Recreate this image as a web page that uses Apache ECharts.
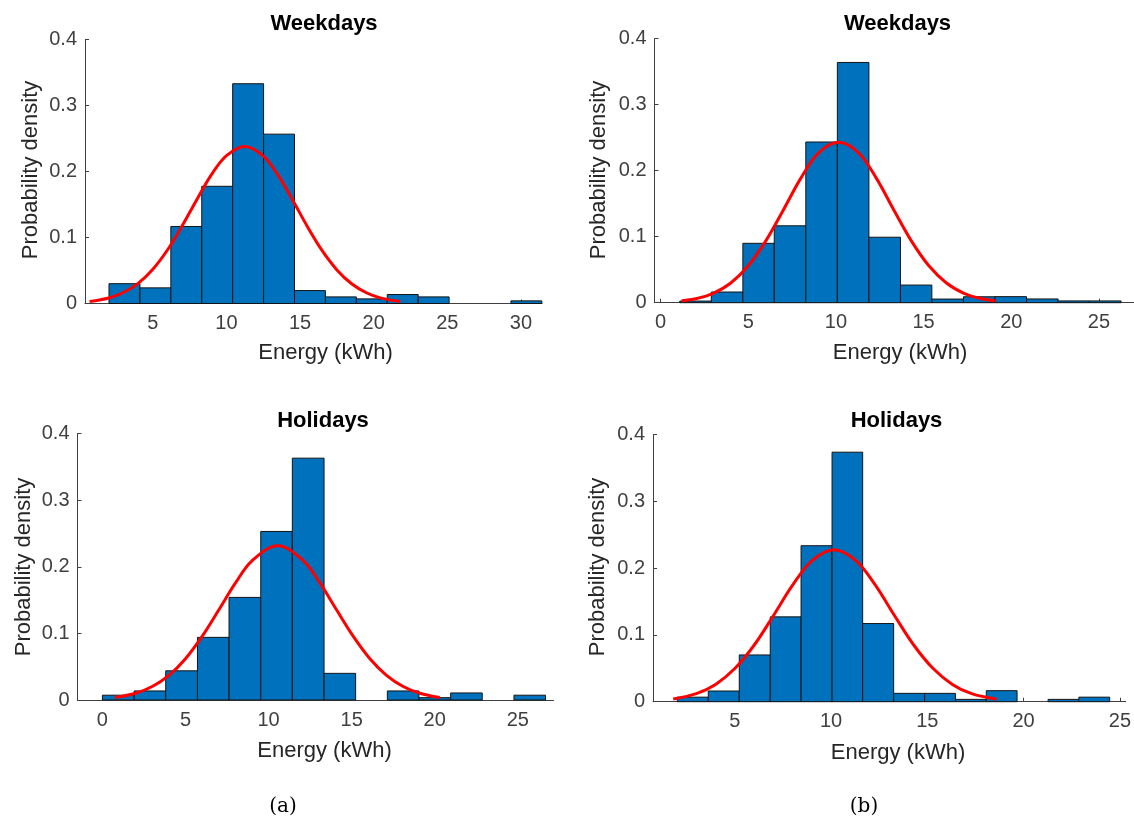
<!DOCTYPE html>
<html>
<head>
<meta charset="utf-8">
<title>Energy per charging session – probability density</title>
<script src="https://cdn.jsdelivr.net/npm/echarts@6/dist/echarts.min.js"></script>
<style>
  html, body { margin: 0; padding: 0; background: #ffffff; }
  #chart { width: 1134px; height: 820px; }
</style>
</head>
<body>
<div id="chart"></div>
<script>
// ---- (a) Weekdays ----
const aWeekEdges   = [2.02, 4.12, 6.22, 8.32, 10.42, 12.52, 14.62, 16.72, 18.82, 20.92, 23.02, 25.12, 27.22, 29.32, 31.42];
const aWeekDensity = [0.030, 0.0237, 0.1167, 0.1776, 0.333, 0.2566, 0.0196, 0.010, 0.007, 0.0136, 0.010, 0, 0, 0.004];
const aWeekFitX    = [0.7, 2, 3, 4, 5, 6, 7, 8, 9, 10, 11.23, 12.5, 13.5, 14.5, 15.5, 16.5, 17.5, 18.5, 19.5, 20.5, 21.8];
const aWeekFitY    = [0.003, 0.0084, 0.0167, 0.0306, 0.0519, 0.0814, 0.118, 0.158, 0.196, 0.224, 0.238, 0.2234, 0.1944, 0.1565, 0.1164, 0.080, 0.0509, 0.0299, 0.0163, 0.0082, 0.003];
const aWeekTicks   = [5, 10, 15, 20, 25, 30];

// ---- (b) Weekdays ----
const bWeekEdges   = [1.09, 2.89, 4.69, 6.48, 8.28, 10.08, 11.88, 13.68, 15.47, 17.27, 19.07, 20.87, 22.67, 24.46, 26.26];
const bWeekDensity = [0.0025, 0.0162, 0.090, 0.1165, 0.2435, 0.364, 0.0992, 0.0267, 0.0055, 0.009, 0.0092, 0.0057, 0.0027, 0.0027];
const bWeekFitX    = [1.2, 2, 3, 4, 5, 6, 7, 8, 9, 10.15, 11.3, 12.3, 13.3, 14.3, 15.3, 16.3, 17.3, 18.3, 19.1];
const bWeekFitY    = [0.0029, 0.0061, 0.0143, 0.0298, 0.0559, 0.0937, 0.1406, 0.1887, 0.2267, 0.243, 0.2267, 0.1887, 0.1406, 0.0937, 0.0559, 0.0298, 0.0143, 0.0061, 0.0029];
const bWeekTicks   = [0, 5, 10, 15, 20, 25];

// ---- (a) Holidays ----
const aHoliEdges   = [0.0, 1.91, 3.81, 5.72, 7.62, 9.53, 11.43, 13.34, 15.24, 17.15, 19.05, 20.96, 22.86, 24.77, 26.67];
const aHoliDensity = [0.0072, 0.0136, 0.0438, 0.094, 0.1540, 0.253, 0.363, 0.040, 0, 0.0136, 0.0035, 0.0106, 0, 0.0072];
const aHoliFitX    = [0.75, 2, 3, 4, 5, 6, 7, 8, 9, 10.55, 12.1, 13.1, 14.1, 15.1, 16.1, 17.1, 18.1, 19.1, 20.3];
const aHoliFitY    = [0.0038, 0.0102, 0.0202, 0.037, 0.062, 0.0955, 0.135, 0.1753, 0.2089, 0.2315, 0.2089, 0.1753, 0.135, 0.0955, 0.062, 0.037, 0.0202, 0.0102, 0.0038];
const aHoliTicks   = [0, 5, 10, 15, 20, 25];

// ---- (b) Holidays ----
const bHoliEdges   = [2.01, 3.62, 5.23, 6.84, 8.44, 10.05, 11.64, 13.25, 14.86, 16.46, 18.06, 19.66, 21.27, 22.87, 24.47];
const bHoliDensity = [0.0068, 0.016, 0.070, 0.127, 0.2335, 0.3735, 0.117, 0.0125, 0.0125, 0.0035, 0.0165, 0, 0.0035, 0.0068];
const bHoliFitX    = [1.8, 3, 4, 5, 6, 7, 8, 9, 10.15, 11.3, 12.3, 13.3, 14.3, 15.3, 16.3, 17.3, 18.6];
const bHoliFitY    = [0.0041, 0.012, 0.0259, 0.0496, 0.0845, 0.1287, 0.1744, 0.2109, 0.2275, 0.2109, 0.1744, 0.1287, 0.0845, 0.0496, 0.0259, 0.012, 0.0038];
const bHoliTicks   = [5, 10, 15, 20, 25];

const densityTicks = [0, 0.1, 0.2, 0.3, 0.4];

const titles    = ['Weekdays', 'Weekdays', 'Holidays', 'Holidays'];
const xName     = 'Energy (kWh)';
const yName     = 'Probability density';
const captions  = ['(a)', '(b)'];

const SANS = '"Liberation Sans", Arial, sans-serif';
const BAR_FILL = '#0072BD';
const FIT_RED = '#ff0000';
const AXIS_GREY = '#404040';

// Panel frames in pixels and the visible x range of each axis.
const panels = [
  { edges: aWeekEdges, dens: aWeekDensity, fx: aWeekFitX, fy: aWeekFitY, ticks: aWeekTicks,
    grid: { left: 85, top: 39.5, width: 457, height: 264 }, xmin: 0.39, xmax: 31.43,
    title: [324, 23.5], xname: [325.5, 353], yname: [31, 170] },
  { edges: bWeekEdges, dens: bWeekDensity, fx: bWeekFitX, fy: bWeekFitY, ticks: bWeekTicks,
    grid: { left: 654.5, top: 38.7, width: 479.5, height: 264 }, xmin: -0.35, xmax: 27.0,
    title: [897.5, 23.5], xname: [900, 353], yname: [599, 170] },
  { edges: aHoliEdges, dens: aHoliDensity, fx: aHoliFitX, fy: aHoliFitY, ticks: aHoliTicks,
    grid: { left: 77.5, top: 433.5, width: 476, height: 266.5 }, xmin: -1.5, xmax: 27.15,
    title: [323, 420.5], xname: [324.5, 751], yname: [24, 567] },
  { edges: bHoliEdges, dens: bHoliDensity, fx: bHoliFitX, fy: bHoliFitY, ticks: bHoliTicks,
    grid: { left: 653, top: 434.5, width: 481, height: 267.2 }, xmin: 0.75, xmax: 25.3,
    title: [896.5, 420.5], xname: [898, 753], yname: [598, 567] }
];

function histogramBar(params, api) {
  const h = api.value(2);
  if (!(h > 0)) return null;
  const topLeft = api.coord([api.value(0), h]);
  const bottomRight = api.coord([api.value(1), 0]);
  return {
    type: 'rect',
    shape: { x: topLeft[0], y: topLeft[1], width: bottomRight[0] - topLeft[0], height: bottomRight[1] - topLeft[1] },
    style: { fill: BAR_FILL, stroke: '#141414', lineWidth: 1 }
  };
}

const grid = [], xAxis = [], yAxis = [], series = [], graphic = [];

panels.forEach((p, i) => {
  grid.push(Object.assign({ containLabel: false }, p.grid));

  xAxis.push({
    type: 'value', gridIndex: i, min: p.xmin, max: p.xmax,
    axisLine: { show: true, onZero: false, lineStyle: { color: AXIS_GREY, width: 1 } },
    axisTick: { show: true, inside: true, length: 4, customValues: p.ticks, lineStyle: { color: AXIS_GREY } },
    axisLabel: { customValues: p.ticks, color: AXIS_GREY, fontFamily: SANS, fontSize: 20, margin: 10 },
    splitLine: { show: false }
  });

  yAxis.push({
    type: 'value', gridIndex: i, min: 0, max: 0.4,
    axisLine: { show: true, onZero: false, lineStyle: { color: AXIS_GREY, width: 1 } },
    axisTick: { show: true, inside: true, length: 4, customValues: densityTicks, lineStyle: { color: AXIS_GREY } },
    axisLabel: { customValues: densityTicks, color: AXIS_GREY, fontFamily: SANS, fontSize: 20, margin: 8 },
    splitLine: { show: false }
  });

  series.push({
    type: 'custom', xAxisIndex: i, yAxisIndex: i,
    renderItem: histogramBar,
    encode: { x: [0, 1], y: 2 },
    data: p.dens.map((d, k) => [p.edges[k], p.edges[k + 1], d]),
    silent: true, z: 2
  });

  series.push({
    type: 'line', xAxisIndex: i, yAxisIndex: i,
    data: p.fx.map((x, k) => [x, p.fy[k]]),
    smooth: 0.35, showSymbol: false, silent: true, z: 3,
    lineStyle: { color: FIT_RED, width: 3 }
  });

  graphic.push({
    type: 'text', x: p.title[0], y: p.title[1],
    style: { text: titles[i], font: 'bold 22px ' + SANS, fill: '#000000', align: 'center', verticalAlign: 'middle' }
  });
  graphic.push({
    type: 'text', x: p.xname[0], y: p.xname[1],
    style: { text: xName, font: '22px ' + SANS, fill: '#262626', align: 'center', verticalAlign: 'middle' }
  });
  graphic.push({
    type: 'text', x: p.yname[0], y: p.yname[1], rotation: Math.PI / 2,
    style: { text: yName, font: '22px ' + SANS, fill: '#262626', align: 'center', verticalAlign: 'middle' }
  });
});

graphic.push({
  type: 'text', x: 283, y: 807,
  style: { text: captions[0], font: '20px "DejaVu Serif", "Liberation Serif", serif', fill: '#000000', align: 'center', verticalAlign: 'middle' }
});
graphic.push({
  type: 'text', x: 864, y: 807,
  style: { text: captions[1], font: '20px "DejaVu Serif", "Liberation Serif", serif', fill: '#000000', align: 'center', verticalAlign: 'middle' }
});

const chart = echarts.init(document.getElementById('chart'), null, { renderer: 'canvas' });
chart.setOption({
  backgroundColor: '#ffffff',
  animation: false,
  grid, xAxis, yAxis, series, graphic
});
</script>
</body>
</html>
